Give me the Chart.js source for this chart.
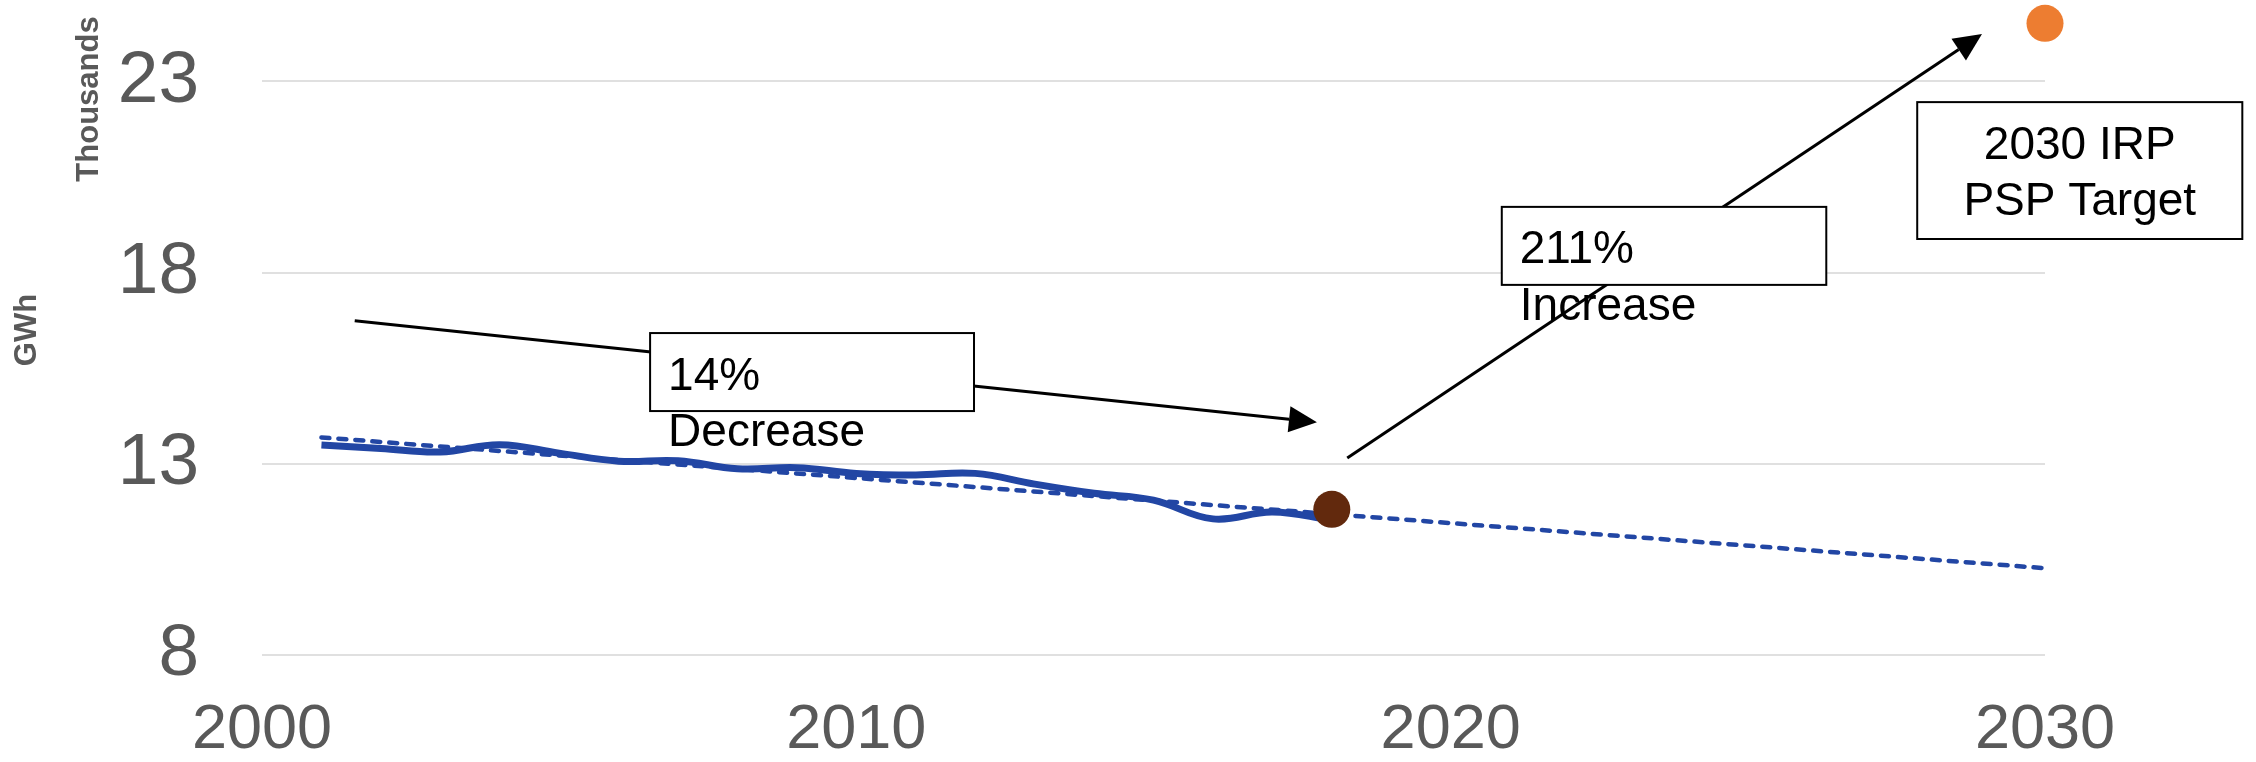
<!DOCTYPE html>
<html>
<head>
<meta charset="utf-8">
<script src="https://cdn.jsdelivr.net/npm/chart.js@4.4.1/dist/chart.umd.min.js"></script>
<style>
  html, body { margin: 0; padding: 0; background: #fff; }
  #wrap { width: 2256px; height: 762px; position: relative; }
</style>
</head>
<body>
<div id="wrap"><canvas id="psp"></canvas></div>
<script>
// Pumped storage generation, thousands of GWh
const years = [2001, 2002, 2003, 2004, 2005, 2006, 2007, 2008, 2009, 2010,
               2011, 2012, 2013, 2014, 2015, 2016, 2017, 2018];
const generation = [13.49, 13.40, 13.31, 13.50, 13.28, 13.07, 13.08, 12.87, 12.90, 12.75,
                    12.71, 12.75, 12.47, 12.23, 12.05, 11.56, 11.74, 11.53];

// linear trend, extended to 2030
const trendYears = [2001, 2030];
const trendValues = [13.69, 10.27];

const actualYears = [2018];
const actualValues = [11.81];
const targetYears = [2030];
const targetValues = [24.52];

const xTicks = [2000, 2010, 2020, 2030];
const yTicks = [8, 13, 18, 23];

const TICK_COLOR = '#595959';
const FONT = "'Liberation Sans', Arial, sans-serif";

// callouts, placed in data units (year, thousand GWh)
const arrows = [
    { from: [2001.56, 16.74], to: [2017.75, 14.09] },
    { from: [2018.26, 13.15], to: [2028.94, 24.24] },
];
const boxes = [
    { x0: 2006.53, x1: 2011.98, y0: 16.42, y1: 14.38, lines: ['14%', 'Decrease'], align: 'left' },
    { x0: 2020.86, x1: 2026.32, y0: 19.72, y1: 17.68, lines: ['211%', 'Increase'], align: 'left' },
    { x0: 2027.85, x1: 2033.32, y0: 22.46, y1: 18.88, lines: ['2030 IRP', 'PSP Target'], align: 'center' },
];

function toXY(arrX, arrY) {
    return arrX.map((x, i) => ({ x: x, y: arrY[i] }));
}

function drawArrow(ctx, x1, y1, x2, y2) {
    const ang = Math.atan2(y2 - y1, x2 - x1);
    const headLen = 28, headHalf = 13;
    const bx = x2 - headLen * Math.cos(ang);
    const by = y2 - headLen * Math.sin(ang);
    ctx.beginPath();
    ctx.moveTo(x1, y1);
    ctx.lineTo(bx, by);
    ctx.stroke();
    ctx.beginPath();
    ctx.moveTo(x2, y2);
    ctx.lineTo(bx + headHalf * Math.sin(ang), by - headHalf * Math.cos(ang));
    ctx.lineTo(bx - headHalf * Math.sin(ang), by + headHalf * Math.cos(ang));
    ctx.closePath();
    ctx.fill();
}

const calloutPlugin = {
    id: 'callouts',
    afterDraw(chart) {
        const { ctx, scales: { x, y } } = chart;
        ctx.save();

        // display-units label
        ctx.save();
        ctx.translate(89, 99);
        ctx.rotate(-Math.PI / 2);
        ctx.font = `bold 31px ${FONT}`;
        ctx.fillStyle = TICK_COLOR;
        ctx.textAlign = 'center';
        ctx.textBaseline = 'middle';
        ctx.fillText('Thousands', 0, 0);
        ctx.restore();

        ctx.strokeStyle = '#000';
        ctx.fillStyle = '#000';
        ctx.lineWidth = 3;
        arrows.forEach(a => {
            drawArrow(ctx,
                x.getPixelForValue(a.from[0]), y.getPixelForValue(a.from[1]),
                x.getPixelForValue(a.to[0]), y.getPixelForValue(a.to[1]));
        });

        boxes.forEach(b => {
            const left = x.getPixelForValue(b.x0);
            const right = x.getPixelForValue(b.x1);
            const top = y.getPixelForValue(b.y0);
            const bottom = y.getPixelForValue(b.y1);
            ctx.fillStyle = '#fff';
            ctx.fillRect(left, top, right - left, bottom - top);
            ctx.lineWidth = 2;
            ctx.strokeStyle = '#000';
            ctx.strokeRect(left, top, right - left, bottom - top);

            ctx.fillStyle = '#000';
            ctx.font = `46px ${FONT}`;
            ctx.textBaseline = 'alphabetic';
            ctx.textAlign = b.align;
            const tx = b.align === 'center' ? (left + right) / 2 : left + 18;
            b.lines.forEach((line, i) => {
                ctx.fillText(line, tx, top + 56.5 + i * 56.5);
            });
        });
        ctx.restore();
    }
};

new Chart(document.getElementById('psp'), {
    type: 'scatter',
    data: {
        datasets: [
            {
                label: 'Generation',
                data: toXY(years, generation),
                showLine: true,
                borderColor: '#2246A4',
                borderWidth: 7,
                tension: 0.4,
                pointRadius: 0,
                order: 4,
            },
            {
                label: 'Trend',
                data: toXY(trendYears, trendValues),
                showLine: true,
                borderColor: '#2246A4',
                borderWidth: 4.5,
                borderDash: [8, 9],
                borderCapStyle: 'round',
                pointRadius: 0,
                order: 3,
            },
            {
                label: '2018',
                data: toXY(actualYears, actualValues),
                pointRadius: 18.5,
                pointBackgroundColor: '#62290D',
                pointBorderWidth: 0,
                clip: false,
                order: 2,
            },
            {
                label: '2030 IRP PSP Target',
                data: toXY(targetYears, targetValues),
                pointRadius: 18.5,
                pointBackgroundColor: '#ED7D31',
                pointBorderWidth: 0,
                clip: false,
                order: 1,
            },
        ],
    },
    options: {
        responsive: true,
        maintainAspectRatio: false,
        animation: false,
        layout: { autoPadding: false, padding: { top: 5, right: 211, left: 0, bottom: 0 } },
        plugins: {
            legend: { display: false },
            tooltip: { enabled: false },
        },
        scales: {
            x: {
                type: 'linear',
                min: 2000,
                max: 2030,
                grid: { display: false, drawTicks: false },
                border: { display: false },
                afterBuildTicks: (scale) => { scale.ticks = xTicks.map(v => ({ value: v })); },
                afterFit: (scale) => { scale.height = 107; },
                ticks: {
                    color: TICK_COLOR,
                    font: { family: FONT, size: 63 },
                    padding: 38,
                    maxRotation: 0,
                    callback: (v) => String(v),
                },
            },
            y: {
                min: 8,
                max: 25,
                grid: { color: '#E0E0E0', lineWidth: 2, drawTicks: false },
                border: { display: false },
                afterBuildTicks: (scale) => { scale.ticks = yTicks.map(v => ({ value: v })); },
                afterFit: (scale) => {
                    scale.width = 262;
                    scale.paddingTop = 0;
                    scale.paddingBottom = 0;
                },
                ticks: {
                    color: TICK_COLOR,
                    font: { family: FONT, size: 73 },
                    padding: 63,
                    callback: (v) => String(v),
                },
                title: {
                    display: true,
                    text: 'GWh',
                    color: TICK_COLOR,
                    font: { family: FONT, size: 31, weight: 'bold' },
                    padding: { top: 9, bottom: 0 },
                },
            },
        },
    },
    plugins: [calloutPlugin],
});
</script>
</body>
</html>
